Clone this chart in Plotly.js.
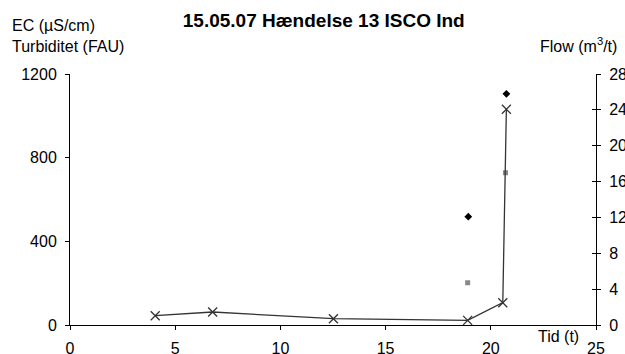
<!DOCTYPE html>
<html><head><meta charset="utf-8">
<script src="https://cdn.plot.ly/plotly-3.0.1.min.js"></script>
<style>html,body{margin:0;padding:0;background:#fff}</style>
</head><body><div id="chart" style="width:625px;height:354px"></div>
<script>
// Flow (right axis), m3/t
const flowTime = [4.05, 6.78, 12.52, 18.9, 20.57, 20.74];
const flowVals = [1.04, 1.45, 0.70, 0.52, 2.49, 24.06];
// EC (left axis), µS/cm
const ecTime = [18.93, 20.74];
const ecVals = [518, 1105];
// Turbiditet (left axis), FAU
const turbTime = [18.9, 20.7];
const turbVals = [202, 728];

const xTicks = [0, 5, 10, 15, 20, 25];
const yLeftTicks = [0, 400, 800, 1200];
const yRightTicks = [0, 4, 8, 12, 16, 20, 24, 28];

const fam = 'Liberation Sans, Arial, sans-serif';
const font = {family: fam, size: 16, color: '#000'};

const traces = [
  {x: flowTime, y: flowVals, yaxis: 'y2', type: 'scatter', mode: 'lines+markers',
   line: {color: '#333', width: 1.3},
   marker: {symbol: 'x-thin', size: 9, line: {color: '#333', width: 1.3}, color: '#333'}},
  {x: ecTime, y: ecVals, type: 'scatter', mode: 'markers',
   marker: {symbol: 'diamond', size: 6, color: '#000'}},
  {x: turbTime, y: turbVals, type: 'scatter', mode: 'markers',
   marker: {symbol: 'square', size: 5, color: '#888'}},
  // invisible helper trace so the inner tick marks of the right axis are drawn
  {x: flowTime, y: flowVals, yaxis: 'y3', type: 'scatter', mode: 'markers',
   marker: {opacity: 0}, hoverinfo: 'skip'}
];

const yAxisCommon = {showgrid: false, zeroline: false, linecolor: '#000', linewidth: 1, tickcolor: '#000'};

const layout = {
  width: 625, height: 354,
  margin: {l: 70, r: 29, t: 74, b: 29},
  paper_bgcolor: '#fff', plot_bgcolor: '#fff',
  showlegend: false,
  font: font,
  title: {text: '<b>15.05.07 Hændelse 13 ISCO Ind</b>', font: {family: fam, size: 19, color: '#000'},
          x: 0.518, xanchor: 'center', y: 0.9435, yanchor: 'middle'},
  xaxis: {range: [0, 25], tickvals: xTicks, ticktext: xTicks.map(String),
          showgrid: false, zeroline: false, showline: true, linecolor: '#000', linewidth: 1,
          ticks: 'outside', ticklen: 4, tickcolor: '#000', ticklabelstandoff: 5},
  yaxis: Object.assign({}, yAxisCommon, {range: [0, 1200], tickvals: yLeftTicks, ticktext: yLeftTicks.map(String),
          showline: true, ticks: 'outside', ticklen: 4, ticklabelstandoff: 5}),
  yaxis2: Object.assign({}, yAxisCommon, {range: [0, 28], overlaying: 'y', side: 'right', tickvals: yRightTicks, ticktext: yRightTicks.map(String),
           showline: true, ticks: 'outside', ticklen: 4, ticklabelstandoff: 5}),
  yaxis3: Object.assign({}, yAxisCommon, {range: [0, 28], overlaying: 'y', side: 'right', tickvals: yRightTicks,
           showline: false, showticklabels: false, ticks: 'inside', ticklen: 4}),
  annotations: [
    {text: 'EC (µS/cm)', xref: 'paper', yref: 'paper', x: -0.114, y: 1.195, xanchor: 'left', yanchor: 'middle', showarrow: false, font: font},
    {text: 'Turbiditet (FAU)', xref: 'paper', yref: 'paper', x: -0.114, y: 1.108, xanchor: 'left', yanchor: 'middle', showarrow: false, font: font},
    {text: 'Flow (m<sup>3</sup>/t)', xref: 'paper', yref: 'paper', x: 1.044, y: 1.116, xanchor: 'right', yanchor: 'middle', showarrow: false, font: font},
    {text: 'Tid (t)', xref: 'paper', yref: 'paper', x: 0.972, y: -0.046, xanchor: 'right', yanchor: 'middle', showarrow: false, font: font}
  ]
};

Plotly.newPlot('chart', traces, layout, {displayModeBar: false, staticPlot: true});
</script></body></html>
